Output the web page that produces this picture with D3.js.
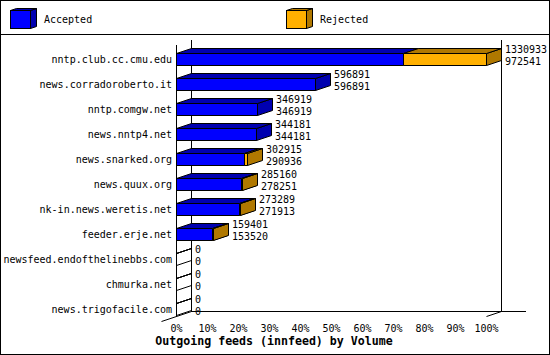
<!DOCTYPE html>
<html>
<head>
<meta charset="utf-8">
<script src="https://cdn.jsdelivr.net/npm/d3@7"></script>
<style>
  html, body { margin: 0; padding: 0; background: #fff; }
  svg { display: block; }
  text { font-family: "DejaVu Sans Mono", monospace; }
</style>
</head>
<body>
<svg id="chart" width="550" height="355"></svg>
<script>
const categories = [
  "nntp.club.cc.cmu.edu",
  "news.corradoroberto.it",
  "nntp.comgw.net",
  "news.nntp4.net",
  "news.snarked.org",
  "news.quux.org",
  "nk-in.news.weretis.net",
  "feeder.erje.net",
  "newsfeed.endofthelinebbs.com",
  "chmurka.net",
  "news.trigofacile.com"
];
const totalValues    = [1330933, 596891, 346919, 344181, 302915, 285160, 273289, 159401, 0, 0, 0];
const acceptedValues = [972541, 596891, 346919, 344181, 290936, 278251, 271913, 153520, 0, 0, 0];
const seriesNames = ["Accepted", "Rejected"];
const seriesColors = ["#0000ff", "#ffb000"];
const seriesDark = ["#0000b0", "#b07800"];
const tickValues = [0, 10, 20, 30, 40, 50, 60, 70, 80, 90, 100];
const tickLabels = ["0%", "10%", "20%", "30%", "40%", "50%", "60%", "70%", "80%", "90%", "100%"];
const title = "Outgoing feeds (innfeed) by Volume";

const W = 550, H = 355;
const DX = 15, DY = -5;
const X0 = 176, X1 = 486;
const PLOT_TOP = 45, PLOT_BOTTOM = 316;
const BAR_H = 12;

const svg = d3.select("#chart");
svg.append("rect").attr("x", 0).attr("y", 0).attr("width", W).attr("height", H).attr("fill", "#fff");

const x = d3.scaleLinear().domain([0, d3.max(totalValues)]).range([X0, X1]);
const xPct = d3.scaleLinear().domain([0, 100]).range([X0, X1]);
const y = d3.scaleBand().domain(categories).range([46.5, 321.5]).padding(0);
const yc = c => y(c) + y.bandwidth() / 2;

const line = (x1, y1, x2, y2) => svg.append("line")
  .attr("x1", x1).attr("y1", y1).attr("x2", x2).attr("y2", y2)
  .attr("stroke", "#000").attr("stroke-width", 1).attr("shape-rendering", "crispEdges");

// Legend
const legendX = [10, 286];
seriesNames.forEach((name, i) => {
  const lx = legendX[i], ly = 10, lw = 20, lh = 18, ldx = 6, ldy = -2;
  const g = svg.append("g").attr("transform", "translate(0.5,0.5)");
  g.append("polygon")
    .attr("points", [[lx + lw, ly], [lx + lw + ldx, ly + ldy], [lx + lw + ldx, ly + lh + ldy], [lx + lw, ly + lh]].join(" "))
    .attr("fill", seriesDark[i]).attr("stroke", "#000");
  g.append("polygon")
    .attr("points", [[lx, ly], [lx + ldx, ly + ldy], [lx + lw + ldx, ly + ldy], [lx + lw, ly]].join(" "))
    .attr("fill", seriesDark[i]).attr("stroke", "#000");
  g.append("rect").attr("x", lx).attr("y", ly).attr("width", lw).attr("height", lh)
    .attr("fill", seriesColors[i]).attr("stroke", "#000");
  svg.append("text").attr("x", lx + 34).attr("y", 23).attr("font-size", 10).text(name);
});
line(0, 34.5, W, 34.5);

// Back plane lines
line(x(0) + DX + 0.5, PLOT_TOP + DY, x(0) + DX + 0.5, PLOT_BOTTOM + DY);
line(x.range()[1] + DX + 0.5, PLOT_TOP + DY, x.range()[1] + DX + 0.5, PLOT_BOTTOM + DY);
line(x(0) + DX, PLOT_BOTTOM + DY + 0.5, x.range()[1] + DX + 25, PLOT_BOTTOM + DY + 0.5);
svg.append("line").attr("x1", x(0) - DX + 0.5).attr("y1", PLOT_BOTTOM - DY + 0.5)
  .attr("x2", x(0) + DX + 0.5).attr("y2", PLOT_BOTTOM + DY + 0.5).attr("stroke", "#000");
svg.append("line").attr("x1", x.range()[1] + 0.5).attr("y1", PLOT_BOTTOM + 0.5)
  .attr("x2", x.range()[1] + DX + 0.5).attr("y2", PLOT_BOTTOM + DY + 0.5).attr("stroke", "#000");

// 3D boxes
function box(g, x1, x2, yTop, yBot, front, dark) {
  const empty = x2 <= x1;
  g.append("polygon")
    .attr("points", [[x2, yTop], [x2 + DX, yTop + DY], [x2 + DX, yBot + DY], [x2, yBot]].join(" "))
    .attr("fill", empty ? "none" : dark).attr("stroke", "#000");
  g.append("polygon")
    .attr("points", [[x1, yTop], [x1 + DX, yTop + DY], [x2 + DX, yTop + DY], [x2, yTop]].join(" "))
    .attr("fill", empty ? "none" : dark).attr("stroke", "#000");
  g.append("polygon")
    .attr("points", [[x1, yTop], [x2, yTop], [x2, yBot], [x1, yBot]].join(" "))
    .attr("fill", empty ? "none" : front).attr("stroke", "#000");
}

const bars = svg.append("g").attr("transform", "translate(0.5,0.5)");
categories.forEach((c, i) => {
  const cy = Math.round(yc(c));
  const yTop = cy - BAR_H / 2, yBot = cy + BAR_H / 2;
  const xa = Math.round(x(acceptedValues[i]));
  const xt = Math.round(x(totalValues[i]));
  box(bars, x(0), xa, yTop, yBot, seriesColors[0], seriesDark[0]);
  if (totalValues[i] > acceptedValues[i]) {
    box(bars, xa, xt, yTop, yBot, seriesColors[1], seriesDark[1]);
  }
  const lx = xt + DX + 4;
  svg.append("text").attr("x", lx).attr("y", cy - 6).attr("font-size", 10).text(totalValues[i]);
  svg.append("text").attr("x", lx).attr("y", cy + 5.5).attr("font-size", 10).text(acceptedValues[i]);
});

// Front-left axis line
line(x(0) + 0.5, PLOT_TOP, x(0) + 0.5, PLOT_BOTTOM + 1);

// Category labels
svg.append("g").selectAll("text").data(categories).join("text")
  .attr("x", 172).attr("y", c => Math.round(yc(c)) + 4)
  .attr("text-anchor", "end").attr("font-size", 10).text(c => c);

// X axis (labels only)
const axis = d3.axisBottom(xPct).tickValues(tickValues).tickSize(0)
  .tickFormat((d, i) => tickLabels[i]);
const ag = svg.append("g").attr("transform", `translate(0,${PLOT_BOTTOM})`).call(axis);
ag.select(".domain").remove();
ag.selectAll("text").attr("font-family", "DejaVu Sans Mono").attr("font-size", 10)
  .attr("fill", "#000").attr("dy", null).attr("y", 16);

// Title
svg.append("text").attr("x", 274).attr("y", 345).attr("text-anchor", "middle")
  .attr("font-size", 11.6).attr("font-weight", "bold").text(title);

// Outer border
svg.append("rect").attr("x", 0.5).attr("y", 0.5).attr("width", W - 1).attr("height", H - 1)
  .attr("fill", "none").attr("stroke", "#000").attr("shape-rendering", "crispEdges");
</script>
</body>
</html>
